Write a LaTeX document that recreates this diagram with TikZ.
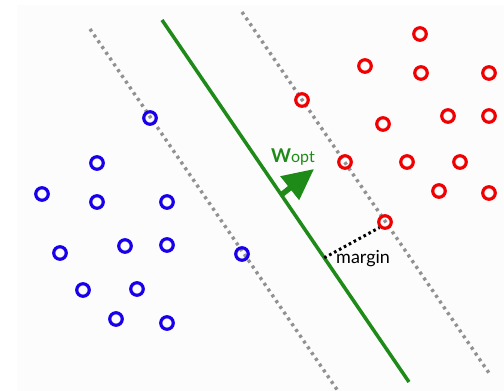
\documentclass[tikz,border=0pt]{standalone}
\usepackage{fontspec}
\setsansfont{Lato}
\usetikzlibrary{arrows.meta,calc}
\definecolor{svgreen}{RGB}{30,138,24}
\definecolor{ptblue}{RGB}{24,0,235}
\definecolor{ptred}{RGB}{240,0,0}
\definecolor{margingray}{RGB}{145,145,145}
\definecolor{bgfill}{RGB}{252,252,252}
\begin{document}
\begin{tikzpicture}[x=1pt,y=-1pt,
  pt/.style={circle, draw, line width=3.2pt, minimum size=12.5pt, inner sep=0pt},
  bpt/.style={pt, draw=ptblue},
  rpt/.style={pt, draw=ptred},
  marginline/.style={margingray, line width=3.4pt, dash pattern=on 3pt off 4pt},
  hyper/.style={svgreen, line width=3.5pt},
  dist/.style={black, line width=3pt, dash pattern=on 2.6pt off 3pt}]
\useasboundingbox (0,0) rectangle (504,391);
\fill[bgfill] (17,5) rectangle (504,391);
% lines
\coordinate (g1) at (162,20);  \coordinate (g2) at (409,382);
\coordinate (l1) at (90,29);   \coordinate (l2) at (338,391);
\coordinate (r1) at (242,12);  \coordinate (r2) at (489,373);
\draw[marginline] (l1) -- (l2);
\draw[marginline] (r1) -- (r2);
\draw[hyper] (g1) -- (g2);
% blue points
\foreach \n/\x/\y in {b1/150/118, b2/97/163, b3/42/194, b4/97/202, b5/167/202,
  b6/125/246, b7/167/245, b8/60/253, b9/242/254, b10/83/290, b11/137/289,
  b12/116/319, b13/167/323}
  \node[bpt] (\n) at (\x,\y) {};
% red points
\foreach \n/\x/\y in {r1p/420/34, r2p/365/66, r3p/421/73, r4p/489/73, r5p/302/100,
  r6p/448/116, r7p/489/116, r8p/383/124, r9p/345/162, r10p/407/162, r11p/460/162,
  r12p/439/191, r13p/489/193, r14p/385/222}
  \node[rpt] (\n) at (\x,\y) {};
% w_opt arrow
\coordinate (a0) at ($(g1)!0.483!(g2)$);
\coordinate (a1) at (314,169);
\draw[svgreen, line width=5.5pt, -{Triangle[length=31pt,width=29pt]}] (a0) -- (a1);
\node[text=svgreen, anchor=base west, inner sep=0pt, font=\sffamily\bfseries] (wlab) at (271,162)
  {\fontsize{19}{19}\selectfont W\fontsize{16}{16}\selectfont\mdseries opt};
% margin
\coordinate (m0) at ($(g1)!0.657!(g2)$);
\draw[dist] (m0) -- (r14p.225);
\node[anchor=base west, inner sep=0pt, font=\sffamily\fontsize{18}{18}\selectfont] (mlab) at (336,263) {margin};
\end{tikzpicture}
\end{document}
